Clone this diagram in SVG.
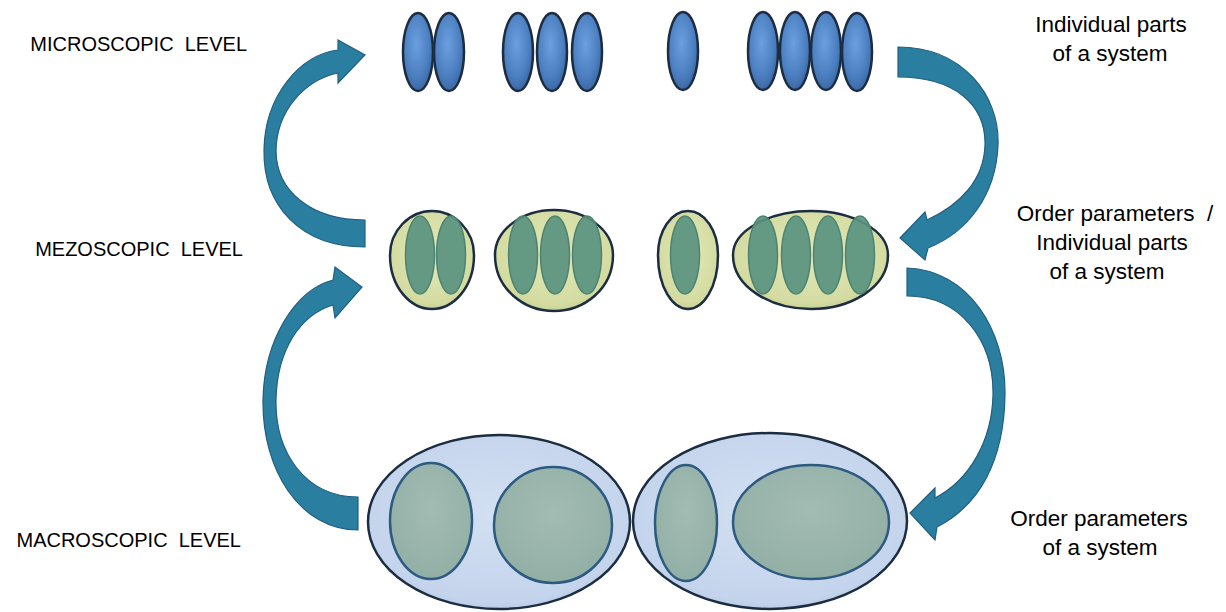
<svg xmlns="http://www.w3.org/2000/svg" width="1226" height="612" viewBox="0 0 1226 612">
<style>
.lbl{font-family:"Liberation Sans",Arial,sans-serif;font-size:20px;fill:#000;text-anchor:end;white-space:pre}
.rlbl{font-family:"Liberation Sans",Arial,sans-serif;font-size:22.5px;fill:#000;text-anchor:middle;white-space:pre}
.micro{fill:url(#gBlue);stroke:#1c2d42;stroke-width:2.5}
.mezoOut{fill:url(#gYel);stroke:#1c2d42;stroke-width:2.5}
.mezoIn{fill:#5a9380;fill-opacity:0.92;stroke:#4d8470;stroke-width:1.5}
.macroOut{fill:url(#gLB);stroke:#1c2d42;stroke-width:2.5}
.macroIn{fill:url(#gGG);stroke:#2d5a80;stroke-width:2.5}
.arrow{fill:#2a7ea0;stroke:#215f80;stroke-width:1.2}
</style>
<defs>
<radialGradient id="gBlue" cx="0.45" cy="0.4" r="0.6">
<stop offset="0" stop-color="#6b9fe0"/><stop offset="0.7" stop-color="#4c7fc0"/><stop offset="1" stop-color="#3a68a4"/>
</radialGradient>
<radialGradient id="gYel" cx="0.5" cy="0.45" r="0.6">
<stop offset="0" stop-color="#e2e8b8"/><stop offset="0.8" stop-color="#d4dca2"/><stop offset="1" stop-color="#c3cd8e"/>
</radialGradient>
<radialGradient id="gLB" cx="0.5" cy="0.45" r="0.6">
<stop offset="0" stop-color="#d3e0f2"/><stop offset="0.85" stop-color="#c4d4ec"/><stop offset="1" stop-color="#aec2e0"/>
</radialGradient>
<radialGradient id="gGG" cx="0.5" cy="0.4" r="0.6">
<stop offset="0" stop-color="#a3bcb3"/><stop offset="1" stop-color="#92afa6"/>
</radialGradient>
</defs>

<g id="labels-left">
<text class="lbl" x="247" y="51" xml:space="preserve">MICROSCOPIC  LEVEL</text>
<text class="lbl" x="243" y="256" xml:space="preserve">MEZOSCOPIC  LEVEL</text>
<text class="lbl" x="241" y="547" xml:space="preserve">MACROSCOPIC  LEVEL</text>
</g>

<g id="labels-right">
<text class="rlbl" x="1111" y="32">Individual parts</text>
<text class="rlbl" x="1110" y="61">of a system</text>
<text class="rlbl" x="1115" y="221" xml:space="preserve">Order parameters  /</text>
<text class="rlbl" x="1112" y="250">Individual parts</text>
<text class="rlbl" x="1107" y="279">of a system</text>
<text class="rlbl" x="1099" y="526">Order parameters</text>
<text class="rlbl" x="1100" y="555">of a system</text>
</g>

<g id="micro-level">
<g id="micro-1"><ellipse class="micro" cx="418" cy="52" rx="15" ry="39"/><ellipse class="micro" cx="449" cy="52" rx="15" ry="39"/></g>
<g id="micro-2"><ellipse class="micro" cx="518" cy="52" rx="15" ry="39"/><ellipse class="micro" cx="552" cy="52" rx="15" ry="39"/><ellipse class="micro" cx="587" cy="52" rx="15" ry="39"/></g>
<g id="micro-3"><ellipse class="micro" cx="683" cy="51" rx="15" ry="39"/></g>
<g id="micro-4"><ellipse class="micro" cx="763" cy="51" rx="15" ry="39"/><ellipse class="micro" cx="795" cy="51" rx="15" ry="39"/><ellipse class="micro" cx="826" cy="51" rx="15" ry="39"/><ellipse class="micro" cx="857" cy="52" rx="15" ry="39"/></g>
</g>

<g id="mezo-level">
<g id="mezo-1"><path class="mezoOut" d="M432,211 C455,211 474,231 474,255 C474,288 453,309 432,309 C411,309 390,288 390,255 C390,231 409,211 432,211 Z"/><ellipse class="mezoIn" cx="420" cy="255" rx="14.5" ry="39"/><ellipse class="mezoIn" cx="451" cy="255" rx="14.5" ry="39"/></g>
<g id="mezo-2"><path class="mezoOut" d="M554,210 C586,210 613,230 613,255 C613,289 584,311 554,311 C524,311 495,289 495,255 C495,230 522,210 554,210 Z"/><ellipse class="mezoIn" cx="523" cy="255" rx="14.5" ry="39"/><ellipse class="mezoIn" cx="555" cy="255" rx="14.5" ry="39"/><ellipse class="mezoIn" cx="587" cy="255" rx="14.5" ry="39"/></g>
<g id="mezo-3"><path class="mezoOut" d="M688,211 C705,211 718,231 718,255 C718,288 703,309 688,309 C673,309 658,288 658,255 C658,231 671,211 688,211 Z"/><ellipse class="mezoIn" cx="685" cy="255" rx="14.5" ry="39"/></g>
<g id="mezo-4"><path class="mezoOut" d="M811,211 C854,211 888,231 888,255 C888,288 850,309 811,309 C772,309 733,288 733,255 C733,231 768,211 811,211 Z"/><ellipse class="mezoIn" cx="763" cy="255" rx="14.5" ry="39"/><ellipse class="mezoIn" cx="796" cy="255" rx="14.5" ry="39"/><ellipse class="mezoIn" cx="828" cy="255" rx="14.5" ry="39"/><ellipse class="mezoIn" cx="860" cy="255" rx="14.5" ry="39"/></g>
</g>

<g id="macro-level">
<g id="macro-1"><ellipse class="macroOut" cx="499" cy="522" rx="131" ry="87"/><ellipse class="macroIn" cx="431" cy="521" rx="41" ry="58"/><ellipse class="macroIn" cx="553" cy="525" rx="59" ry="58"/></g>
<g id="macro-2"><ellipse class="macroOut" cx="770" cy="521" rx="137" ry="88"/><ellipse class="macroIn" cx="686" cy="523" rx="31" ry="58"/><ellipse class="macroIn" cx="811" cy="522" rx="78" ry="57"/></g>
</g>

<g id="connectors">
<path id="arrow-mezo-to-micro" class="arrow" d="M365,247 C300,247 263,205 264,150 C265,95 300,55 338,50 L338,40 L365,55 L338,83 L338,73 C305,80 277,110 276,150 C276,192 312,220 365,220 Z"/>
<path id="arrow-macro-to-mezo" class="arrow" d="M358,530 C300,530 262,470 263,400 C264,340 295,290 333,280 L335,267 L362,287 L335,318 L333,305 C300,315 277,350 276,400 C275,452 305,497 358,497 Z"/>
<path id="arrow-micro-to-mezo" class="arrow" d="M898,47 C962,47 1000,95 998,145 C996,195 968,232 928,248 L925,260 L900,238 L925,212 L927,220 C960,205 984,180 985,145 C986,105 955,77 898,77 Z"/>
<path id="arrow-mezo-to-macro" class="arrow" d="M907,268 C968,270 1006,330 1005,395 C1004,460 980,505 937,527 L935,540 L910,513 L935,488 L935,498 C970,480 992,440 993,395 C994,340 960,296 907,296 Z"/>
</g>
</svg>
